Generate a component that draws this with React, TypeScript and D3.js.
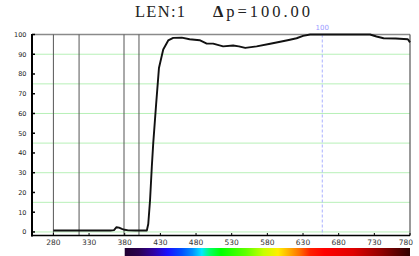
import * as d3 from "d3";

// transmittance curve (wavelength nm -> %)
const WL = [280, 300, 320, 340, 360, 365, 368.5, 372, 376, 380, 385, 395, 405, 411, 413, 415.5, 418, 420, 424, 428, 434, 441, 448, 460, 471, 485, 495, 504, 518, 532, 540, 549, 565, 584, 598, 610, 621, 630, 640, 660, 680, 700, 724, 733, 743, 760, 777, 780];
const T = [0.7, 0.7, 0.7, 0.7, 0.7, 0.9, 2.4, 2.2, 1.6, 1.1, 0.8, 0.7, 0.7, 0.7, 4, 16, 33, 45, 64.5, 83, 92.4, 97, 98.3, 98.4, 97.6, 97.1, 95.4, 95.4, 94, 94.4, 94.0, 93.2, 94, 95.3, 96.3, 97.2, 98.1, 99.3, 100, 100, 100, 100, 100, 99, 98.1, 98.0, 97.6, 96];

const X_TICKS = [280, 330, 380, 430, 480, 530, 580, 630, 680, 730, 780];
const Y_TICKS = [0, 10, 20, 30, 40, 50, 60, 70, 80, 90, 100];
const GRID = [0, 15, 30, 45, 60, 75, 90];
const MARKERS = [280, 316, 379, 400];
const CURSOR = 657;
const CURSOR_LABEL = "100";

const SPECTRUM: [number, string][] = [
  [380, "#200030"], [400, "#2a0050"], [420, "#3000a0"], [440, "#1a10ff"], [460, "#0050ff"],
  [475, "#0090ff"], [488, "#00e8ff"], [500, "#00ff60"], [515, "#00ff00"], [550, "#60ff00"],
  [575, "#c8ff00"], [595, "#ffee00"], [610, "#ffb000"], [625, "#ff7000"], [640, "#ff2000"],
  [660, "#ff0000"], [700, "#e00000"], [740, "#900000"], [780, "#300000"],
];

export default function App() {
  const W = 419, H = 256;
  const x = d3.scaleLinear().domain([250, 780]).range([32, 410]);
  const y = d3.scaleLinear().domain([-1.8, 100]).range([235.5, 34.5]);
  const pts = WL.map((w, i) => [w, T[i]] as [number, number]);
  const line = d3.line<[number, number]>().x((d) => x(d[0])).y((d) => y(d[1]));
  const bx0 = x(380), bx1 = x(780);

  return (
    <svg width={W} height={H} style={{ position: "absolute", left: 0, top: 0, background: "#fff" }}>
      <defs>
        <linearGradient id="spec" x1="0" x2="1" y1="0" y2="0">
          {SPECTRUM.map(([w, c]) => (
            <stop key={w} offset={(w - 380) / 400} stopColor={c} />
          ))}
        </linearGradient>
      </defs>

      <text x={135} y={17} fontSize="16.5" fontFamily="Liberation Serif, serif" fill="#222" textLength={50}>LEN:1</text>
      <text x={213} y={17} fontSize="16.5" fontFamily="Liberation Serif, serif" fill="#222" textLength={97}>
        <tspan fontWeight="bold">Δ</tspan>p=100.00
      </text>

      {GRID.map((g) => (
        <line key={`g${g}`} x1={32} x2={410} y1={y(g)} y2={y(g)} stroke="#b8f0b8" strokeWidth={1} />
      ))}

      <line x1={32} x2={410} y1={y(100)} y2={y(100)} stroke="#8a8a8a" strokeWidth={1.5} />
      <line x1={410} x2={410} y1={y(100)} y2={235.5} stroke="#555" strokeWidth={1.2} />

      {MARKERS.map((m) => (
        <line key={`m${m}`} x1={x(m)} x2={x(m)} y1={y(100)} y2={235.5} stroke="#555" strokeWidth={1} />
      ))}

      <line x1={x(CURSOR)} x2={x(CURSOR)} y1={y(100)} y2={235.5} stroke="#aab0ff" strokeWidth={1} strokeDasharray="3,2" />
      <text x={x(CURSOR)} y={30} textAnchor="middle" fontSize="7" fontFamily="DejaVu Sans, sans-serif" fill="#9a9aff">{CURSOR_LABEL}</text>

      <path d={line(pts) ?? ""} fill="none" stroke="#111" strokeWidth={1.9} strokeLinejoin="round" />

      <line x1={32} x2={32} y1={y(100) - 0.5} y2={236.5} stroke="#000" strokeWidth={2} />
      <line x1={31} x2={410} y1={235.5} y2={235.5} stroke="#000" strokeWidth={1.5} />

      {Y_TICKS.map((t) => (
        <g key={`y${t}`}>
          <line x1={32} x2={35} y1={y(t)} y2={y(t)} stroke="#000" strokeWidth={1.5} />
          <text x={26.5} y={y(t) + 2.5} textAnchor="end" fontSize="6.5" fontFamily="DejaVu Sans, sans-serif" fill="#222">{t}</text>
        </g>
      ))}
      {X_TICKS.map((t) => (
        <g key={`x${t}`}>
          <line x1={x(t)} x2={x(t)} y1={235.5} y2={233} stroke="#000" strokeWidth={1} />
          <text x={Math.min(x(t), 406)} y={245} textAnchor="middle" fontSize="7.5" fontFamily="DejaVu Sans, sans-serif" fill="#333">{t}</text>
        </g>
      ))}

      <rect x={bx0} y={248} width={bx1 - bx0} height={8} fill="url(#spec)" />
    </svg>
  );
}
